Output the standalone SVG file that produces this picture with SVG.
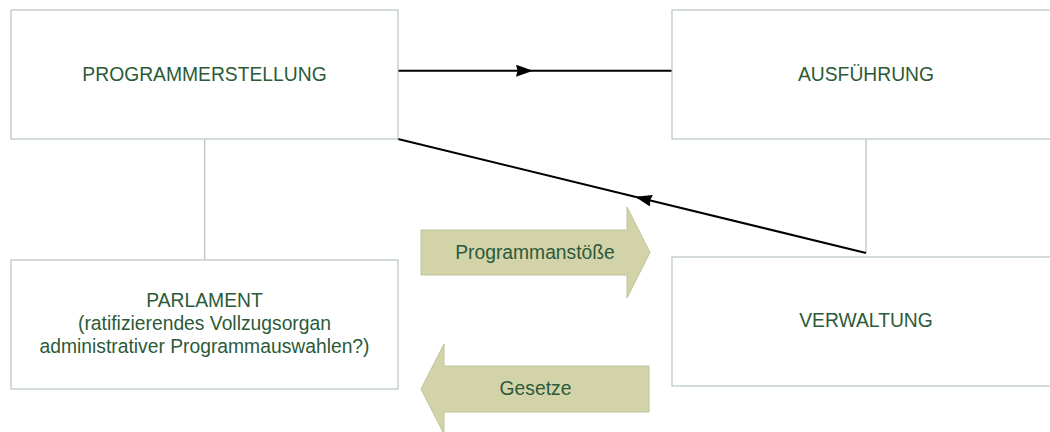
<svg xmlns="http://www.w3.org/2000/svg" width="1050" height="432" viewBox="0 0 1050 432">
<style>
.box{fill:#ffffff;stroke:#b9c6bf;stroke-width:1.2}
.lbl{font-family:"Liberation Sans",Arial,sans-serif;font-size:19.3px;fill:#2b5a39;text-anchor:middle}
.flow{fill:#d3d3a9;stroke:#bfc39c;stroke-width:1}
.tie{stroke:#c3c3c3;stroke-width:1.3;fill:none}
.dir{stroke:#000000;stroke-width:2;fill:none;marker-mid:url(#ah)}
</style>
<defs>
<marker id="ah" markerUnits="userSpaceOnUse" markerWidth="19" markerHeight="13" refX="17" refY="6" orient="auto">
<path d="M0,0 L17,6 L0,12 L1.5,6 z" fill="#000"/>
</marker>
</defs>
<rect width="1050" height="432" fill="#ffffff"/>
<g id="connectors">
<line class="tie" x1="204.7" y1="139" x2="204.7" y2="260"/>
<line class="tie" x1="866" y1="139" x2="866" y2="253"/>
<polyline class="dir" points="398,70.7 533,70.7 672,70.7"/>
<polyline class="dir" points="866,253 635,196.7 398,139"/>
</g>
<g id="programmerstellung">
<rect class="box" x="11" y="10" width="387" height="129"/>
<text class="lbl" x="204.5" y="80.5">PROGRAMMERSTELLUNG</text>
</g>
<g id="ausfuehrung">
<rect class="box" x="672" y="10" width="388" height="129"/>
<text class="lbl" x="866" y="80.5">AUSFÜHRUNG</text>
</g>
<g id="parlament">
<rect class="box" x="11" y="260" width="387" height="129"/>
<text class="lbl" x="204.5" y="307">PARLAMENT</text>
<text class="lbl" x="204.5" y="330">(ratifizierendes Vollzugsorgan</text>
<text class="lbl" x="204.5" y="353">administrativer Programmauswahlen?)</text>
</g>
<g id="verwaltung">
<rect class="box" x="672" y="257" width="388" height="129"/>
<text class="lbl" x="866" y="327">VERWALTUNG</text>
</g>
<g id="programmanstoesse">
<polygon class="flow" points="421,230 627,230 627,207 650,252.5 627,298 627,275 421,275"/>
<text class="lbl" x="535" y="258.5">Programmanstöße</text>
</g>
<g id="gesetze">
<polygon class="flow" points="649,366 649,412 444,412 444,434 421,389 444,344 444,366"/>
<text class="lbl" x="535.5" y="395">Gesetze</text>
</g>
</svg>
